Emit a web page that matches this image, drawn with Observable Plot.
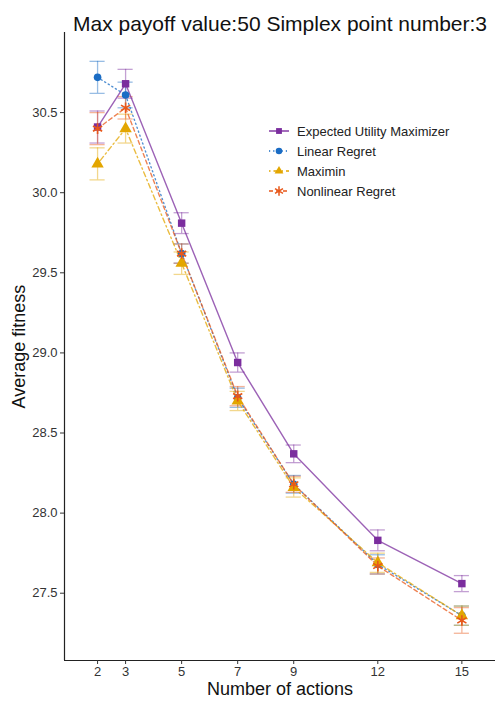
<!DOCTYPE html>
<html>
<head>
<meta charset="utf-8">
<script src="https://cdn.jsdelivr.net/npm/d3@7"></script>
<script src="https://cdn.jsdelivr.net/npm/@observablehq/plot@0.6"></script>
<style>
  body { margin: 0; background: #fff; font-family: "Liberation Sans", Arial, sans-serif; }
  #wrap { position: relative; width: 495px; height: 703px; overflow: hidden; }
  #legend { position: absolute; left: 268px; top: 121px; font-size: 13px; color: #222; }
  #legend .row { display: flex; align-items: center; height: 20px; }
  #legend svg { width: 22px; height: 20px; margin-right: 7px; overflow: visible; }
</style>
</head>
<body>
<div id="wrap"><div id="legend"></div></div>
<script>
// ---- data ----
const actions = [2, 3, 5, 7, 9, 12, 15];
const seriesNames = ["Expected Utility Maximizer", "Linear Regret", "Maximin", "Nonlinear Regret"];
const eumValues = [30.41, 30.68, 29.81, 28.94, 28.37, 27.83, 27.56];
const eumErrors = [0.10, 0.09, 0.065, 0.06, 0.055, 0.065, 0.05];
const lrValues  = [30.72, 30.61, 29.62, 28.72, 28.18, 27.68, 27.36];
const lrErrors  = [0.10, 0.08, 0.06, 0.06, 0.055, 0.06, 0.06];
const mmValues  = [30.18, 30.40, 29.56, 28.70, 28.16, 27.69, 27.36];
const mmErrors  = [0.10, 0.09, 0.07, 0.06, 0.06, 0.06, 0.06];
const nrValues  = [30.40, 30.53, 29.62, 28.73, 28.18, 27.67, 27.33];
const nrErrors  = [0.10, 0.07, 0.06, 0.06, 0.05, 0.05, 0.08];
const yTicks = [27.5, 28.0, 28.5, 29.0, 29.5, 30.0, 30.5];
const titleText = "Max payoff value:50 Simplex point number:3";
const xLabel = "Number of actions";
const yLabel = "Average fitness";

// ---- styles ----
const styles = [
  {color: "#7b2d9e", symbol: "square",   dash: null,      r: 4.2},
  {color: "#1a6cc4", symbol: "circle",   dash: "1.2,3",   r: 3.8},
  {color: "#e3a600", symbol: "triangle", dash: "1.5,3,5,3", r: 4.6},
  {color: "#e8581a", symbol: "asterisk", dash: "4,3",     r: 5}
];
const valueSets = [eumValues, lrValues, mmValues, nrValues];
const errorSets = [eumErrors, lrErrors, mmErrors, nrErrors];

const data = [];
seriesNames.forEach((s, i) => actions.forEach((a, j) => data.push({
  series: s, idx: i, x: a, y: valueSets[i][j], e: errorSets[i][j]
})));

const xDomain = [0.82, 16.2];
const yDomain = [27.08, 31.0];

const marks = [];
seriesNames.forEach((s, i) => {
  const d = data.filter(r => r.series === s);
  const st = styles[i];
  marks.push(Plot.ruleX(d, {x: "x", y1: r => r.y - r.e, y2: r => r.y + r.e, stroke: st.color, strokeOpacity: 0.45, strokeWidth: 1.3}));
  marks.push(Plot.ruleY(d, {y: r => r.y - r.e, x1: r => r.x - 0.27, x2: r => r.x + 0.27, stroke: st.color, strokeOpacity: 0.45, strokeWidth: 1.3}));
  marks.push(Plot.ruleY(d, {y: r => r.y + r.e, x1: r => r.x - 0.27, x2: r => r.x + 0.27, stroke: st.color, strokeOpacity: 0.45, strokeWidth: 1.3}));
});
seriesNames.forEach((s, i) => {
  const d = data.filter(r => r.series === s);
  const st = styles[i];
  marks.push(Plot.line(d, {x: "x", y: "y", stroke: st.color, strokeOpacity: 0.75, strokeWidth: 1.4, strokeDasharray: st.dash}));
});
seriesNames.forEach((s, i) => {
  const d = data.filter(r => r.series === s);
  const st = styles[i];
  if (st.symbol === "asterisk") {
    marks.push(Plot.dot(d, {x: "x", y: "y", symbol: "asterisk", r: st.r, stroke: st.color, strokeWidth: 1.6}));
  } else {
    marks.push(Plot.dot(d, {x: "x", y: "y", symbol: st.symbol, r: st.r, fill: st.color, stroke: "none"}));
  }
});

// axis lines
marks.push(Plot.ruleX([xDomain[0]], {stroke: "#222", strokeWidth: 1.2}));
marks.push(Plot.ruleY([yDomain[0]], {stroke: "#222", strokeWidth: 1.2}));
marks.push(Plot.axisX({ticks: actions, tickSize: 4, tickPadding: 2, fontSize: 13, label: null, stroke: "#333", color: "#333"}));
marks.push(Plot.axisY({ticks: yTicks, tickSize: 4, tickPadding: 3, fontSize: 13, tickFormat: d3.format(".1f"), label: null, stroke: "#333", color: "#333"}));
// title & axis labels
marks.push(Plot.text([titleText], {frameAnchor: "top", dy: -16, fontSize: 21, fill: "#111", text: d => d}));
marks.push(Plot.text([xLabel], {frameAnchor: "bottom", dy: 34, fontSize: 18, fill: "#111", text: d => d}));
marks.push(Plot.text([yLabel], {frameAnchor: "left", textAnchor: "middle", dx: -45, rotate: -90, fontSize: 18, fill: "#111", text: d => d}));

const chart = Plot.plot({
  width: 495,
  height: 703,
  marginLeft: 64,
  marginRight: 0,
  marginTop: 32,
  marginBottom: 43,
  style: {fontFamily: "'Liberation Sans', Arial, sans-serif", background: "#fff", overflow: "visible"},
  x: {domain: xDomain},
  y: {domain: yDomain},
  marks
});
const wrap = document.getElementById("wrap");
wrap.insertBefore(chart, wrap.firstChild);

// legend
const legend = document.getElementById("legend");
seriesNames.forEach((s, i) => {
  const st = styles[i];
  const row = document.createElement("div");
  row.className = "row";
  const svg = d3.create("svg").attr("viewBox", "0 0 22 20");
  svg.append("line").attr("x1", 1).attr("x2", 21).attr("y1", 10).attr("y2", 10)
    .attr("stroke", st.color).attr("stroke-width", 1.4).attr("stroke-dasharray", st.dash);
  const sym = {square: d3.symbolSquare, circle: d3.symbolCircle, triangle: d3.symbolTriangle, asterisk: d3.symbolAsterisk}[st.symbol];
  const path = svg.append("path").attr("transform", "translate(11,10)")
    .attr("d", d3.symbol(sym, st.symbol === "asterisk" ? 60 : 34)());
  if (st.symbol === "asterisk") path.attr("fill", "none").attr("stroke", st.color).attr("stroke-width", 1.5);
  else path.attr("fill", st.color);
  row.appendChild(svg.node());
  const t = document.createElement("span");
  t.textContent = s;
  row.appendChild(t);
  legend.appendChild(row);
});
</script>
</body>
</html>
